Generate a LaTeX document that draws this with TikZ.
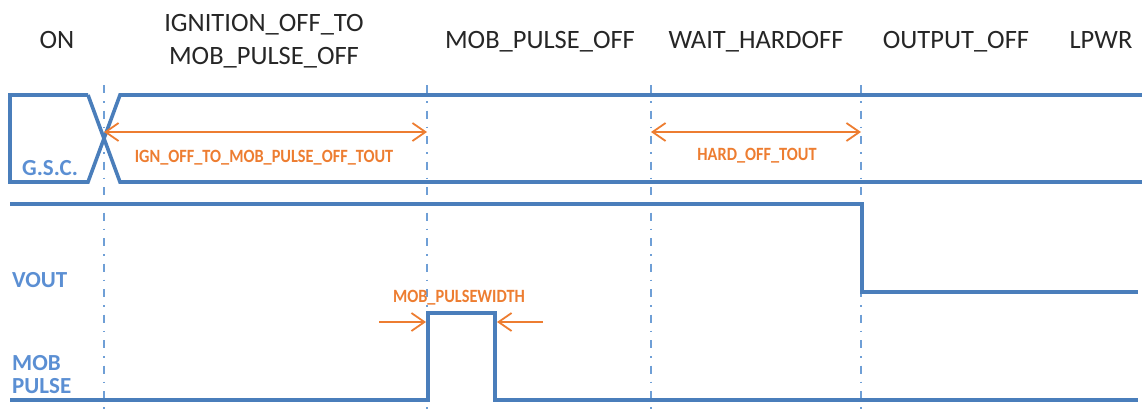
\documentclass[tikz,border=0pt]{standalone}
\usepackage{fontspec}
\setmainfont{Carlito}
\usetikzlibrary{arrows.meta}
\definecolor{sig}{HTML}{4A7EBB}
\definecolor{gridc}{HTML}{6F9FD6}
\definecolor{org}{HTML}{ED7D31}
\definecolor{lbl}{HTML}{5B8FD3}
\definecolor{txt}{HTML}{262626}
\newcommand{\tallen}[1]{\scalebox{1}[1.15]{#1}}
\begin{document}
\begin{tikzpicture}[x=1pt,y=-1pt,
  signal/.style={draw=sig,line width=3.6pt,line join=miter},
  gridline/.style={draw=gridc,line width=2pt,dash pattern=on 8pt off 8pt on 1.5pt off 8pt},
  state/.style={font=\fontsize{26.5}{33}\selectfont,text=txt,anchor=base,inner sep=0pt},
  siglabel/.style={font=\bfseries\fontsize{23}{26}\selectfont,text=lbl,anchor=base west,inner sep=0pt},
  timer/.style={font=\bfseries\fontsize{16.3}{18}\selectfont,text=org,anchor=base,inner sep=0pt},
  dim/.style={draw=org,line width=1.8pt},
  tip/.tip={Straight Barb[length=13pt,width=18pt]}]
\useasboundingbox (0,0) rectangle (1142,410);

% time marks
\foreach \n/\x in {t1/104,t2/427,t3/651,t4/861}{
  \coordinate (\n top) at (\x,85);
  \coordinate (\n bot) at (\x,410);
  \draw[gridline] (\n top) -- (\n bot);
}

% state names
\node[state] (son) at (57,48) {ON};
\node[state,align=center,anchor=north] (sign) at (264,14) {IGNITION\_OFF\_TO\\MOB\_PULSE\_OFF};
\node[state] (smob) at (540,48) {MOB\_PULSE\_OFF};
\node[state] (swait) at (756,48) {WAIT\_HARDOFF};
\node[state] (sout) at (956,48) {OUTPUT\_OFF};
\node[state] (slp) at (1101,48) {LPWR};

% G.S.C. signal
\coordinate (ga) at (88,95);
\coordinate (gb) at (88,182);
\coordinate (gc) at (120,95);
\coordinate (gd) at (120,182);
\draw[signal] (ga) -- (10,95) -- (10,182) -- (gb) -- (gc) -- (1142,95);
\draw[signal] (ga) -- (gd) -- (1142,182);
\node[siglabel] (lgsc) at (22,175) {G.S.C.};

% timeouts
\coordinate (ia) at (104,132);
\coordinate (ib) at (427,132);
\draw[dim,tip-tip] (ia) -- (ib);
\node[timer] (lign) at (264,162) {\tallen{IGN\_OFF\_TO\_MOB\_PULSE\_OFF\_TOUT}};
\coordinate (ha) at (651,132);
\coordinate (hb) at (861,132);
\draw[dim,tip-tip] (ha) -- (hb);
\node[timer] (lhard) at (757,160) {\tallen{HARD\_OFF\_TOUT}};

% VOUT
\coordinate (va) at (862,204);
\coordinate (vb) at (862,292);
\draw[signal] (10,204) -- (va) -- (vb) -- (1138,292);
\node[siglabel] (lvout) at (12,287) {VOUT};

% MOB pulse
\coordinate (pa) at (428,400);
\coordinate (pb) at (428,313);
\coordinate (pc) at (495,313);
\coordinate (pd) at (495,400);
\draw[signal] (10,400) -- (pa) -- (pb) -- (pc) -- (pd) -- (1138,400);
\node[siglabel] (lmob) at (12,370) {MOB};
\node[siglabel] (lpulse) at (12,393) {PULSE};

% pulse width
\coordinate (wl) at (379,322);
\coordinate (wr) at (543,322);
\coordinate (wlt) at (426,322);
\coordinate (wrt) at (497,322);
\draw[dim,-tip] (wl) -- (wlt);
\draw[dim,-tip] (wr) -- (wrt);
\node[timer] (lpw) at (459,302) {\tallen{MOB\_PULSEWIDTH}};
\end{tikzpicture}
\end{document}
